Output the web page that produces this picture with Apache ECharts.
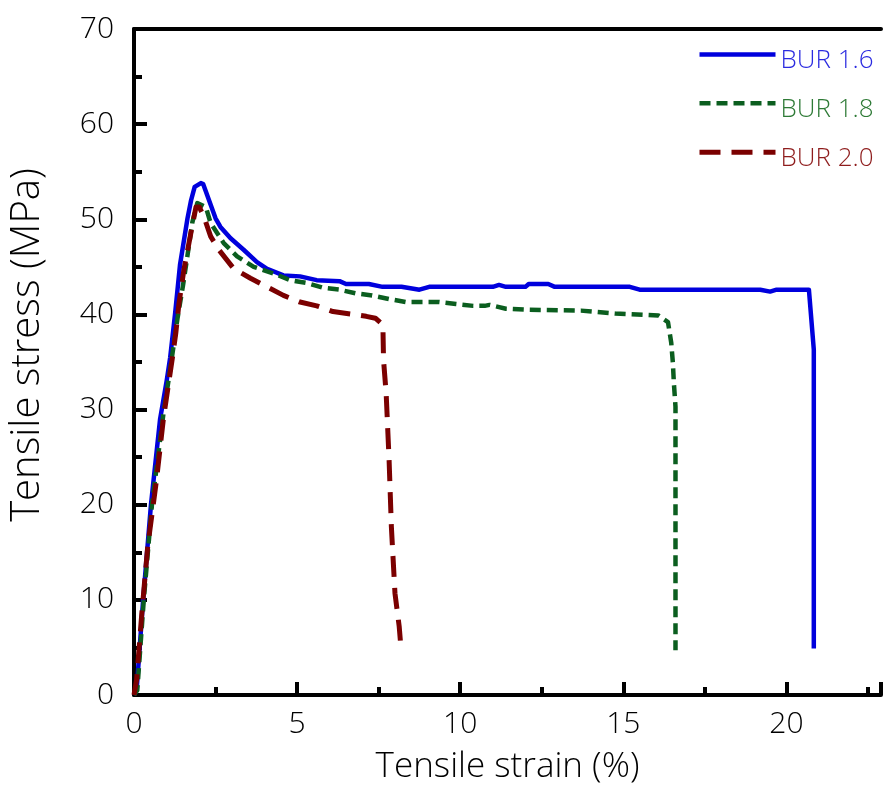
<!DOCTYPE html>
<html>
<head>
<meta charset="utf-8">
<script src="https://cdn.jsdelivr.net/npm/echarts@6/dist/echarts.min.js"></script>
<style>
html,body{margin:0;padding:0;background:#fff;}
#chart{width:884px;height:794px;}
</style>
</head>
<body>
<div id="chart"></div>
<script>
// ---- data ----
const seriesNames = ['BUR 1.6', 'BUR 1.8', 'BUR 2.0'];

const bur16Strain = [0, 0.08, 0.28, 0.52, 0.8, 1.0, 1.11, 1.26, 1.41, 1.64, 1.75, 1.86, 2.05, 2.12, 2.5, 2.65, 2.96, 3.36, 3.77, 4.08, 4.58, 5.09, 5.6, 6.3, 6.5, 7.2, 7.62, 8.2, 8.75, 9.05, 10.0, 11.0, 11.19, 11.4, 12.0, 12.1, 12.7, 12.9, 15.2, 15.5, 19.2, 19.5, 19.7, 20.69, 20.84, 20.84];
const bur16Stress = [0, 0.5, 10, 20, 29, 33, 35.5, 40.1, 45.2, 50.1, 52.0, 53.4, 53.8, 53.7, 50.1, 49.2, 48.0, 46.8, 45.5, 44.8, 44.1, 44.0, 43.6, 43.5, 43.2, 43.2, 42.9, 42.9, 42.6, 42.9, 42.9, 42.9, 43.1, 42.9, 42.9, 43.2, 43.2, 42.9, 42.9, 42.6, 42.6, 42.4, 42.6, 42.6, 36.3, 4.9];

const bur18Strain = [0, 0.1, 0.3, 0.55, 0.9, 1.1, 1.33, 1.5, 1.64, 1.79, 1.94, 2.2, 2.35, 2.75, 3.16, 3.67, 4.28, 4.79, 5.3, 5.8, 6.3, 6.82, 7.3, 7.84, 8.34, 9.36, 9.87, 10.4, 10.75, 10.9, 11.4, 12.0, 13.7, 14.75, 16.07, 16.37, 16.47, 16.52, 16.55, 16.6, 16.6];
const bur18Stress = [0, 0.5, 10, 20, 29.5, 34, 39.5, 43.0, 46.2, 49.7, 51.7, 51.3, 49.6, 47.5, 46.1, 45.0, 44.3, 43.6, 43.3, 42.8, 42.6, 42.2, 42.0, 41.6, 41.3, 41.3, 41.1, 40.9, 40.9, 41.0, 40.6, 40.5, 40.4, 40.1, 39.9, 39.2, 37.0, 34.9, 32.8, 30.3, 4.7];

const bur20Strain = [0, 0.08, 0.24, 0.42, 0.69, 0.9, 1.05, 1.18, 1.28, 1.38, 1.53, 1.74, 1.9, 2.0, 2.14, 2.35, 2.6, 3.06, 3.57, 4.08, 4.58, 5.09, 5.6, 6.1, 6.72, 7.12, 7.4, 7.63, 7.65, 7.73, 7.82, 7.89, 8.0, 8.13, 8.19];
const bur20Stress = [0, 1.6, 8.6, 15.6, 22.6, 29.0, 32.5, 35.5, 38.0, 41.2, 44.7, 48.5, 51.3, 51.3, 50.3, 48.2, 46.8, 44.8, 43.8, 42.9, 42.0, 41.3, 40.9, 40.3, 40.0, 39.8, 39.6, 38.9, 35.2, 31.7, 24.7, 17.7, 10.7, 7.2, 4.7];

const xTickValues = [0, 5, 10, 15, 20];
const yTickValues = [0, 10, 20, 30, 40, 50, 60, 70];
const xTitle = 'Tensile strain (%)';
const yTitle = 'Tensile stress (MPa)';

// ---- build ----
function pairs(xs, ys) { return xs.map((x, i) => [x, ys[i]]); }

const FONT = '"Open Sans", "Noto Sans", sans-serif';
const lineColors = ['#0000dd', '#0b5e1f', '#7b0000'];
const textColors = ['#2b2be0', '#2e7a36', '#8e1c1c'];
const dashes = ['solid', [11, 6], [21, 11]];
const widths = [4.5, 4.5, 5];
const dataSets = [pairs(bur16Strain, bur16Stress), pairs(bur18Strain, bur18Stress), pairs(bur20Strain, bur20Stress)];

const chart = echarts.init(document.getElementById('chart'), null, {renderer: 'canvas'});
const axisLineStyle = {color: '#000', width: 4};
chart.setOption({
  animation: false,
  backgroundColor: '#fff',
  grid: {left: 133, right: 0, top: 29, bottom: 99, containLabel: false},
  legend: {
    orient: 'vertical',
    left: 692,
    top: 39,
    itemWidth: 76,
    itemHeight: 26,
    itemGap: 19.5,
    itemStyle: {opacity: 0},
    formatter: n => '{t|' + n + '}',
    textStyle: {
      fontSize: 26, fontFamily: FONT, fontWeight: 300,
      rich: {t: {fontSize: 26, fontFamily: FONT, fontWeight: 300, padding: [12, 0, 0, 0]}}
    },
    data: seriesNames.map((n, i) => ({
      name: n,
      textStyle: {color: textColors[i], rich: {t: {color: textColors[i], fontSize: 26, fontFamily: FONT, fontWeight: 300, padding: [12, 0, 0, 0]}}},
      lineStyle: {width: widths[i], color: lineColors[i], type: dashes[i]}
    }))
  },
  xAxis: [{
    type: 'value', min: 0, max: 22.9, interval: 5,
    axisLine: {show: true, onZero: false, lineStyle: axisLineStyle},
    axisTick: {show: true, inside: true, length: 13, lineStyle: {color: '#000', width: 4}},
    minorTick: {show: true, splitNumber: 2, length: 8, lineStyle: {color: '#000', width: 4}},
    splitLine: {show: false}, minorSplitLine: {show: false},
    axisLabel: {
      color: '#000', fontSize: 30, fontFamily: FONT, fontWeight: 300, margin: 14,
      formatter: v => (xTickValues.indexOf(Math.round(v * 1000) / 1000) >= 0 ? String(v) : '')
    },
    name: xTitle, nameLocation: 'middle', nameGap: 55,
    nameTextStyle: {color: '#000', fontSize: 35, fontFamily: FONT, fontWeight: 300}
  }, {
    type: 'value', min: 0, max: 22.9, position: 'top',
    axisLine: {show: true, onZero: false, lineStyle: axisLineStyle},
    axisTick: {show: false}, axisLabel: {show: false}, splitLine: {show: false}
  }],
  yAxis: {
    type: 'value', min: 0, max: 70, interval: 10,
    axisLine: {show: true, onZero: false, lineStyle: axisLineStyle},
    axisTick: {show: true, inside: true, length: 13, lineStyle: {color: '#000', width: 4}},
    minorTick: {show: true, splitNumber: 2, length: 8, lineStyle: {color: '#000', width: 4}},
    splitLine: {show: false}, minorSplitLine: {show: false},
    axisLabel: {
      color: '#000', fontSize: 30, fontFamily: FONT, fontWeight: 300, margin: 20,
      formatter: v => (yTickValues.indexOf(v) >= 0 ? String(v) : '')
    },
    name: yTitle, nameLocation: 'middle', nameGap: 86,
    nameTextStyle: {color: '#000', fontSize: 40, fontFamily: FONT, fontWeight: 300, padding: [0, 0, 0, 34]}
  },
  series: dataSets.map((d, i) => ({
    name: seriesNames[i],
    type: 'line',
    data: d,
    symbol: 'none',
    showSymbol: false,
    smooth: false,
    lineStyle: {color: lineColors[i], width: widths[i], type: dashes[i], cap: 'butt', join: 'round'},
    itemStyle: {color: lineColors[i]},
    z: 2 + i
  }))
});
</script>
</body>
</html>
